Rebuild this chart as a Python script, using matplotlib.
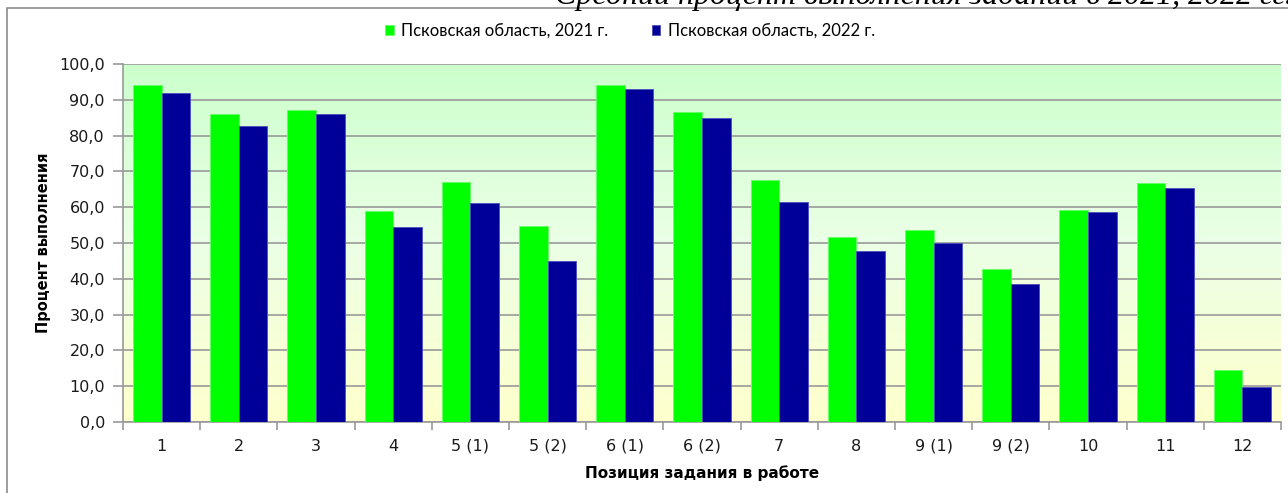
import numpy as np
import matplotlib
matplotlib.use("Agg")
import matplotlib.pyplot as plt
from matplotlib.colors import LinearSegmentedColormap
from matplotlib.patches import Rectangle
from matplotlib.ticker import FuncFormatter

# данные с диаграммы
positions = ['1', '2', '3', '4', '5 (1)', '5 (2)', '6 (1)', '6 (2)', '7', '8',
             '9 (1)', '9 (2)', '10', '11', '12']
pct_2021 = [94.0, 85.9, 87.1, 58.9, 67.0, 54.8, 94.0, 86.7, 67.6, 51.7,
            53.6, 42.7, 59.2, 66.7, 14.6]
pct_2022 = [91.8, 82.6, 85.9, 54.5, 61.2, 45.0, 93.1, 84.8, 61.5, 47.8,
            50.0, 38.5, 58.7, 65.3, 9.7]
label_2021 = 'Псковская область, 2021 г.'
label_2022 = 'Псковская область, 2022 г.'
title = 'Средний процент выполнения заданий в 2021, 2022 гг.'

fig = plt.figure(figsize=(12.88, 4.93), dpi=100)
ax = fig.add_axes([123 / 1288, 71 / 493, 1158 / 1288, 358 / 493])

# рамка диаграммы
fig.add_artist(Rectangle((7 / 1288, -0.1), 1.2, (493 - 8) / 493 + 0.1,
                         transform=fig.transFigure, fill=False,
                         edgecolor='#8c8c8c', linewidth=1.2))

# фон с градиентом
cmap = LinearSegmentedColormap.from_list(
    'bg', [(0.0, '#ffffcc'), (0.5, '#ebffe6'), (1.0, '#ccffcc')])
grad = np.linspace(0, 1, 256).reshape(-1, 1)
n = len(positions)
ax.imshow(grad, cmap=cmap, aspect='auto', origin='lower',
          extent=(-0.5, n - 0.5, 0, 100), zorder=0)

x = np.arange(n)
w = 0.37
ax.bar(x - w / 2, pct_2021, w, color='#00ff00', edgecolor='#66ff66',
       linewidth=0.6, label=label_2021, zorder=3)
ax.bar(x + w / 2, pct_2022, w, color='#000099', edgecolor='#4d4dbb',
       linewidth=0.6, label=label_2022, zorder=3)

ax.set_xlim(-0.5, n - 0.5)
ax.set_ylim(0, 100)
ax.set_yticks(np.arange(0, 101, 10))
ax.yaxis.set_major_formatter(FuncFormatter(lambda v, p: f'{v:.1f}'.replace('.', ',')))
ax.grid(axis='y', color='#999999', linewidth=1.2, zorder=1)
ax.set_axisbelow(True)

ax.set_xticks(x)
ax.set_xticklabels(positions)
ax.set_xticks(np.arange(-0.5, n, 1), minor=True)
ax.tick_params(axis='x', which='major', length=0, pad=12, labelsize=11.5,
               labelcolor='#1a1a1a')
ax.tick_params(axis='x', which='minor', length=6, color='#999999', width=1.2)
ax.tick_params(axis='y', length=7, color='#999999', width=1.2, labelsize=11.5,
               labelcolor='#1a1a1a', pad=6)

for side in ['top', 'right']:
    ax.spines[side].set_visible(False)
for side in ['left', 'bottom']:
    ax.spines[side].set_color('#999999')
    ax.spines[side].set_linewidth(1.2)

ax.set_ylabel('Процент выполнения', fontsize=10.5, fontweight='bold', labelpad=6)
ax.set_xlabel('Позиция задания в работе', fontsize=11, fontweight='bold',
              labelpad=8)

leg = fig.legend(loc='center', bbox_to_anchor=(630 / 1288, 1 - 31 / 493),
                 ncol=2, frameon=False, prop={'family': 'Lato', 'size': 12},
                 handlelength=0.5, handleheight=0.6, handletextpad=0.45,
                 columnspacing=2.6)

# заголовок, обрезанный верхним краем (как на исходной картинке)
fig.text(555 / 1288, 1 - 4 / 493, title, ha='left', va='baseline',
         fontsize=23, fontstyle='italic', family='Liberation Serif')

fig.savefig('out.png', dpi=100)
